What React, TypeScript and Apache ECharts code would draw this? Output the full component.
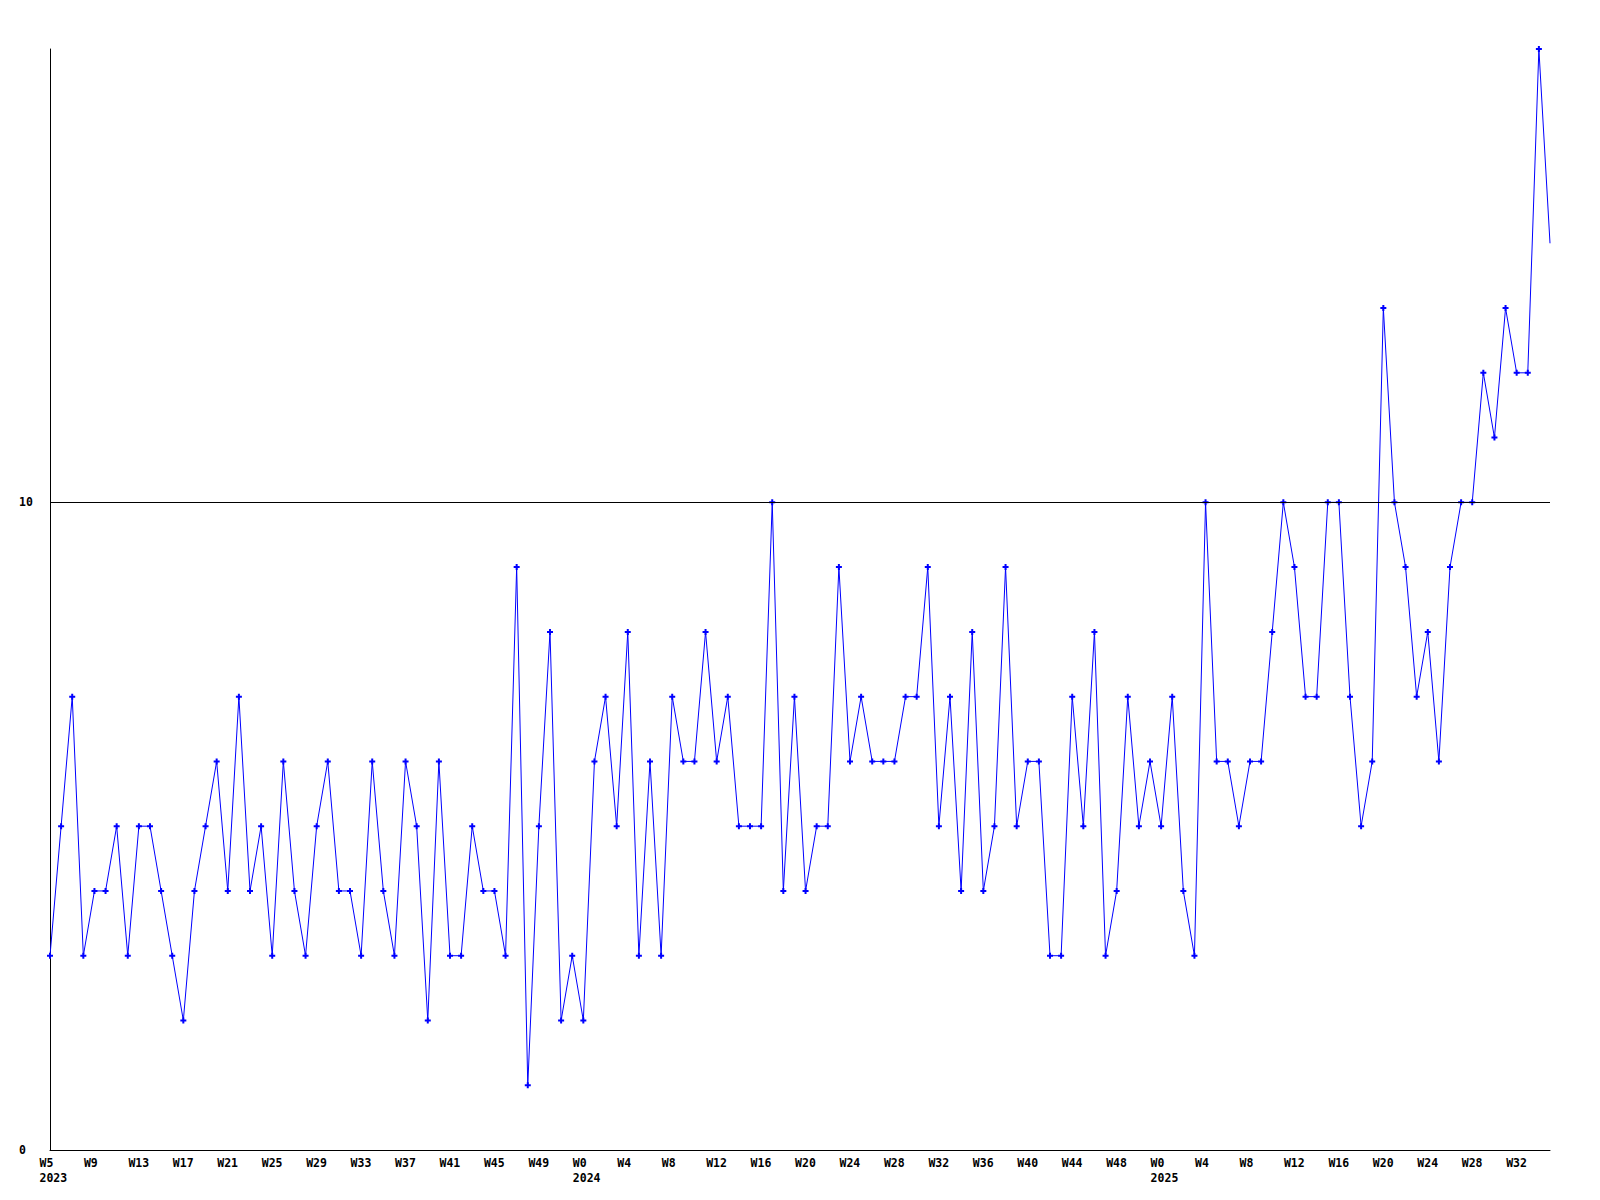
import React, { useEffect, useRef } from "react";
import * as echarts from "echarts";

// Weeks covered by the series, per year
const years = [2023, 2024, 2025];
const firstWeek = [5, 0, 0];
const lastWeek = [52, 51, 35];

// Weekly counts, one per week in order
const values = [
  3, 5, 7, 3, 4, 4, 5, 3, 5, 5,
  4, 3, 2, 4, 5, 6, 4, 7, 4, 5,
  3, 6, 4, 3, 5, 6, 4, 4, 3, 6,
  4, 3, 6, 5, 2, 6, 3, 3, 5, 4,
  4, 3, 9, 1, 5, 8, 2, 3, 2, 6,
  7, 5, 8, 3, 6, 3, 7, 6, 6, 8,
  6, 7, 5, 5, 5, 10, 4, 7, 4, 5,
  5, 9, 6, 7, 6, 6, 6, 7, 7, 9,
  5, 7, 4, 8, 4, 5, 9, 5, 6, 6,
  3, 3, 7, 5, 8, 3, 4, 7, 5, 6,
  5, 7, 4, 3, 10, 6, 6, 5, 6, 6,
  8, 10, 9, 7, 7, 10, 10, 7, 5, 6,
  13, 10, 9, 7, 8, 6, 9, 10, 10, 12,
  11, 13, 12, 12, 17, 14,
];

// Labelled weeks on the x axis
const labelWeeks2023 = [5, 9, 13, 17, 21, 25, 29, 33, 37, 41, 45, 49];
const labelWeeks2024 = [0, 4, 8, 12, 16, 20, 24, 28, 32, 36, 40, 44, 48];
const labelWeeks2025 = [0, 4, 8, 12, 16, 20, 24, 28, 32];
const yTickLabels = [0, 10];
const referenceLines = [10];

const categories: string[] = [];
years.forEach((y, k) => {
  for (let w = firstWeek[k]; w <= lastWeek[k]; w++) categories.push(`${y}-W${w}`);
});

const labelSet = new Set<string>([
  ...labelWeeks2023.map((w) => `2023-W${w}`),
  ...labelWeeks2024.map((w) => `2024-W${w}`),
  ...labelWeeks2025.map((w) => `2025-W${w}`),
]);
const yearFirstLabel = new Set<string>([
  `2023-W${labelWeeks2023[0]}`,
  `2024-W${labelWeeks2024[0]}`,
  `2025-W${labelWeeks2025[0]}`,
]);

const FONT = "'DejaVu Sans Mono', monospace";

export default function App() {
  const ref = useRef<HTMLDivElement>(null);
  useEffect(() => {
    if (!ref.current) return;
    const chart = echarts.init(ref.current, null, { renderer: "svg" });
    const seriesData = values.map((v, i) =>
      i === values.length - 1 ? { value: v, symbol: "none" } : v
    );
    chart.setOption({
      animation: false,
      backgroundColor: "#ffffff",
      grid: { left: 50, right: 50, top: 49, bottom: 50, containLabel: false },
      xAxis: {
        type: "category",
        data: categories,
        boundaryGap: false,
        axisLine: { show: true, lineStyle: { color: "#000", width: 1 } },
        axisTick: { show: false },
        splitLine: { show: false },
        axisLabel: {
          interval: (_i: number, v: string) => labelSet.has(v),
          formatter: (v: string) => {
            const [y, w] = v.split("-");
            return yearFirstLabel.has(v) ? `${w}\n${y}` : w;
          },
          align: "left",
          padding: [0, 0, 0, -10.5],
          margin: 5,
          color: "#000",
          fontFamily: FONT,
          fontWeight: "bold",
          fontSize: 11.5,
          lineHeight: 15,
        },
      },
      yAxis: {
        type: "value",
        min: 0,
        max: 17,
        interval: 10,
        axisLine: { show: true, lineStyle: { color: "#000", width: 1 } },
        axisTick: { show: false },
        splitLine: { show: false },
        axisLabel: {
          showMaxLabel: false,
          formatter: (v: number) => (yTickLabels.includes(v) ? String(v) : ""),
          align: "left",
          margin: 31,
          color: "#000",
          fontFamily: FONT,
          fontWeight: "bold",
          fontSize: 11.5,
        },
      },
      series: [
        {
          type: "line",
          data: seriesData,
          symbol: "path://M2 0H4V2H6V4H4V6H2V4H0V2H2Z",
          symbolSize: 6,
          showSymbol: true,
          itemStyle: { color: "#0000ff" },
          lineStyle: { color: "#0000ff", width: 1 },
          markLine: {
            silent: true,
            symbol: "none",
            label: { show: false },
            lineStyle: { color: "#000", width: 1, type: "solid" },
            data: referenceLines.map((v) => ({ yAxis: v })),
          },
          z: 3,
        },
      ],
    });
    return () => chart.dispose();
  }, []);
  return (
    <div
      ref={ref}
      style={{ position: "absolute", left: 0, top: 0, width: 1600, height: 1200 }}
    />
  );
}
